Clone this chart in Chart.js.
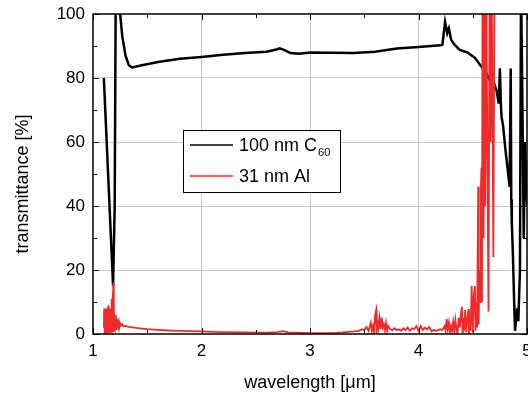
<!DOCTYPE html>
<html>
<head>
<meta charset="utf-8">
<script src="https://cdn.jsdelivr.net/npm/chart.js@4.4.1/dist/chart.umd.min.js"></script>
<style>
  body { margin: 0; background: #fff; }
  #wrap { width: 528px; height: 396px; }
</style>
</head>
<body>
<div id="wrap"><canvas id="chart"></canvas></div>
<script>
// 100 nm C60 film
var wlC60 = [1.10, 1.185, 1.20, 1.21, 1.24, 1.25, 1.27, 1.30, 1.33, 1.36,
             1.45, 1.6, 1.8, 2.0, 2.2, 2.4, 2.6, 2.68, 2.72, 2.76,
             2.82, 2.9, 3.0, 3.2, 3.4, 3.6, 3.8, 4.0, 4.2, 4.22,
             4.245, 4.265, 4.28, 4.3, 4.33, 4.38, 4.45, 4.52, 4.58, 4.62,
             4.68, 4.70, 4.72, 4.74, 4.75, 4.76, 4.765, 4.78, 4.80, 4.82,
             4.84, 4.85, 4.855, 4.86, 4.87, 4.88, 4.89, 4.90, 4.91, 4.92,
             4.935, 4.945, 4.955, 4.97, 4.98, 5.0];
var tC60 = [80, 15, 40, 110, 115, 100, 93, 87, 84, 83.3,
            84, 85, 86, 86.6, 87.3, 87.8, 88.2, 88.8, 89.3, 88.8,
            87.8, 87.6, 88, 87.9, 87.8, 88.2, 89.2, 89.7, 90.2, 90.4,
            97.5, 94, 95.5, 92, 90.5, 88.8, 88, 86.3, 83.5, 82,
            77.5, 78, 76, 72, 83, 71, 68, 65, 58, 52,
            46, 83, 42, 35, 25, 12, 1, 5, 8, 4,
            20, 110, 80, 30, 60, 40];

// 31 nm Al film
var wlAl = [1.100, 1.103, 1.106, 1.109, 1.112, 1.115, 1.118, 1.121, 1.124, 1.127,
            1.130, 1.133, 1.136, 1.139, 1.142, 1.145, 1.148, 1.151, 1.154, 1.157,
            1.160, 1.163, 1.166, 1.169, 1.172, 1.175, 1.178, 1.181, 1.184, 1.187,
            1.190, 1.193, 1.196, 1.199, 1.202, 1.205, 1.208, 1.211, 1.214, 1.217,
            1.220, 1.223, 1.226, 1.230, 1.235, 1.240, 1.245, 1.250, 1.260, 1.270,
            1.28, 1.30, 1.33, 1.36, 1.40, 1.45, 1.5, 1.6, 1.7, 1.8,
            1.9, 2.0, 2.2, 2.4, 2.6, 2.7, 2.75, 2.8, 3.0, 3.2,
            3.3, 3.4, 3.45, 3.48, 3.5, 3.52, 3.54, 3.56, 3.57, 3.58,
            3.59, 3.60, 3.61, 3.615, 3.62, 3.63, 3.64, 3.65, 3.66, 3.67,
            3.68, 3.69, 3.70, 3.71, 3.72, 3.74, 3.76, 3.78, 3.80, 3.82,
            3.84, 3.86, 3.88, 3.90, 3.92, 3.94, 3.96, 3.98, 4.00, 4.02,
            4.04, 4.06, 4.08, 4.10, 4.12, 4.14, 4.16, 4.18, 4.20, 4.22,
            4.24, 4.25, 4.26, 4.27, 4.28, 4.29, 4.30, 4.31, 4.32, 4.33,
            4.34, 4.35, 4.36, 4.37, 4.38, 4.39, 4.40, 4.405, 4.41, 4.42,
            4.43, 4.44, 4.45, 4.46, 4.465, 4.47, 4.48, 4.49, 4.50, 4.51,
            4.52, 4.525, 4.53, 4.54, 4.55, 4.555, 4.56, 4.57, 4.575, 4.58,
            4.585, 4.59, 4.60, 4.605, 4.615, 4.625, 4.635, 4.645, 4.655, 4.665,
            4.675, 4.69, 4.70, 4.71, 4.72];
var tAl = [2, 8, 0.5, 7.5, 0.3, 7, 0.5, 8, 0.3, 7,
           0.5, 7.5, 0.5, 8.5, 0.4, 9, 0.5, 8, 0.6, 7,
           0.5, 8, 0.8, 9, 0.6, 11, 0.8, 13, 1, 16,
           1, 10, 1.5, 6, 1.2, 5.5, 1.5, 6, 1.5, 5,
           2, 4.5, 2, 4, 2.5, 3.6, 2.5, 3.3, 2.6, 3,
           2.4, 2.5, 2.2, 2.1, 1.9, 1.7, 1.5, 1.3, 1.1, 1.0,
           0.9, 0.8, 0.6, 0.5, 0.45, 0.6, 0.9, 0.5, 0.3, 0.3,
           0.5, 0.8, 1, 1.5, 1.2, 2.2, 1, 3.5, 1, 2.5,
           0.5, 6, 7.5, 0, 4, 2, 5, 1.5, 5.2, 2,
           3, 1.2, 3.5, 1, 2.5, 1.5, 1.2, 1.8, 1.2, 1.5,
           1, 1.8, 1.2, 2, 1, 1.8, 1.5, 2.5, 1, 2.5,
           1.2, 2, 1.5, 2.2, 0.8, 1.3, 1, 1.2, 1.5, 1.2,
           2.5, 1, 4.7, 1.5, 3.5, 0.5, 2.5, 1, 3.8, 0.8,
           4.4, 1.5, 0, 5, 2, 6, 8.5, 0.5, 5, 1,
           7.5, 0.5, 5, 7.8, 0, 6, 1, 15, 0.5, 12,
           15, 1, 10, 2, 46, 3, 20, 10, 45, 52,
           10, 110, 30, 110, 40, 110, 55, 7, 110, 60,
           110, 24, 110, 110, 110];

var seriesNames = ['100 nm C_60', '31 nm Al'];
var seriesColors = ['#000000', '#ee2b2b'];
var xTickValues = [1, 2, 3, 4, 5];
var yTickValues = [0, 20, 40, 60, 80, 100];
var xTitle = 'wavelength [\u03bcm]';
var yTitle = 'transmittance [%]';

function toPoints(xs, ys) {
    return xs.map(function (x, i) { return {x: x, y: ys[i]}; });
}

// box, inward ticks, legend, y title
var framePlugin = {
    id: 'frame',
    afterDatasetsDraw: function (chart) {
        var ctx = chart.ctx, a = chart.chartArea;
        var xs = chart.scales.x, ys = chart.scales.y;
        ctx.save();
        ctx.strokeStyle = '#000';
        ctx.lineWidth = 1.5;
        ctx.strokeRect(a.left, a.top, a.right - a.left, a.bottom - a.top);
        ctx.lineWidth = 1;
        ctx.beginPath();
        for (var v = 1; v <= 5.0001; v += 0.5) {
            var px = Math.round(xs.getPixelForValue(v)) + 0.5;
            var len = Math.abs(v - Math.round(v)) < 1e-6 ? 6 : 4;
            ctx.moveTo(px, a.bottom); ctx.lineTo(px, a.bottom - len);
            ctx.moveTo(px, a.top); ctx.lineTo(px, a.top + len);
        }
        for (var w = 0; w <= 100; w += 10) {
            var py = Math.round(ys.getPixelForValue(w)) + 0.5;
            var l2 = w % 20 === 0 ? 6 : 4;
            ctx.moveTo(a.left, py); ctx.lineTo(a.left + l2, py);
            ctx.moveTo(a.right, py); ctx.lineTo(a.right - l2, py);
        }
        ctx.stroke();
        ctx.restore();
    },
    afterDraw: function (chart) {
        var ctx = chart.ctx;
        ctx.save();
        // y title
        ctx.fillStyle = '#000';
        ctx.font = '18px "Liberation Sans", Arial, sans-serif';
        ctx.textAlign = 'center';
        ctx.textBaseline = 'middle';
        ctx.translate(23, 184);
        ctx.rotate(-Math.PI / 2);
        ctx.fillText(yTitle, 0, 0);
        ctx.restore();

        // legend
        ctx.save();
        var bx = 183, by = 130, bw = 157, bh = 62;
        ctx.fillStyle = '#fff';
        ctx.fillRect(bx, by, bw, bh);
        ctx.strokeStyle = '#000';
        ctx.lineWidth = 1;
        ctx.strokeRect(bx + 0.5, by + 0.5, bw, bh);
        chart.data.datasets.forEach(function (ds, i) {
            var y = by + 15 + i * 31;
            ctx.strokeStyle = ds.borderColor;
            ctx.lineWidth = 1.5;
            ctx.beginPath();
            ctx.moveTo(bx + 7, y); ctx.lineTo(bx + 50, y);
            ctx.stroke();
            var parts = ds.label.split('_');
            ctx.fillStyle = '#000';
            ctx.font = '18px "Liberation Sans", Arial, sans-serif';
            ctx.textAlign = 'left';
            ctx.textBaseline = 'middle';
            ctx.fillText(parts[0], bx + 56, y + 1);
            if (parts[1]) {
                var tw = ctx.measureText(parts[0]).width;
                ctx.font = '11px "Liberation Sans", Arial, sans-serif';
                ctx.fillText(parts[1], bx + 56 + tw + 1, y + 8);
            }
        });
        ctx.restore();
    }
};

new Chart(document.getElementById('chart'), {
    type: 'line',
    data: {
        datasets: [
            {label: seriesNames[0], data: toPoints(wlC60, tC60), borderColor: seriesColors[0],
             borderWidth: 2.5, pointRadius: 0, tension: 0, order: 2},
            {label: seriesNames[1], data: toPoints(wlAl, tAl), borderColor: seriesColors[1],
             borderWidth: 1.8, pointRadius: 0, tension: 0, order: 1}
        ]
    },
    options: {
        responsive: true,
        maintainAspectRatio: false,
        animation: false,
        layout: {padding: {top: 14, right: 1, left: 0, bottom: 0}},
        plugins: {legend: {display: false}, tooltip: {enabled: false}},
        scales: {
            x: {
                type: 'linear', min: 1, max: 5,
                afterBuildTicks: function (s) { s.ticks = xTickValues.map(function (v) { return {value: v}; }); },
                afterFit: function (s) { s.height = 62; s.paddingLeft = 0; s.paddingRight = 0; },
                grid: {color: function (c) { return (c.tick && (c.tick.value === 1 || c.tick.value === 5)) ? 'rgba(0,0,0,0)' : '#c8c8c8'; }, drawTicks: false, lineWidth: 1},
                border: {display: false},
                ticks: {color: '#000', padding: 7, maxRotation: 0, font: {family: '"Liberation Sans", Arial, sans-serif', size: 17}},
                title: {display: true, text: xTitle, color: '#000', padding: {top: 0, bottom: 2}, font: {family: '"Liberation Sans", Arial, sans-serif', size: 18}}
            },
            y: {
                type: 'linear', min: 0, max: 100,
                afterBuildTicks: function (s) { s.ticks = yTickValues.map(function (v) { return {value: v}; }); },
                afterFit: function (s) { s.width = 93; s.paddingTop = 0; s.paddingBottom = 0; },
                grid: {color: function (c) { return (c.tick && (c.tick.value === 0 || c.tick.value === 100)) ? 'rgba(0,0,0,0)' : '#c8c8c8'; }, drawTicks: false, lineWidth: 1},
                border: {display: false},
                ticks: {color: '#000', padding: 8, font: {family: '"Liberation Sans", Arial, sans-serif', size: 17}}
            }
        }
    },
    plugins: [framePlugin]
});
</script>
</body>
</html>
